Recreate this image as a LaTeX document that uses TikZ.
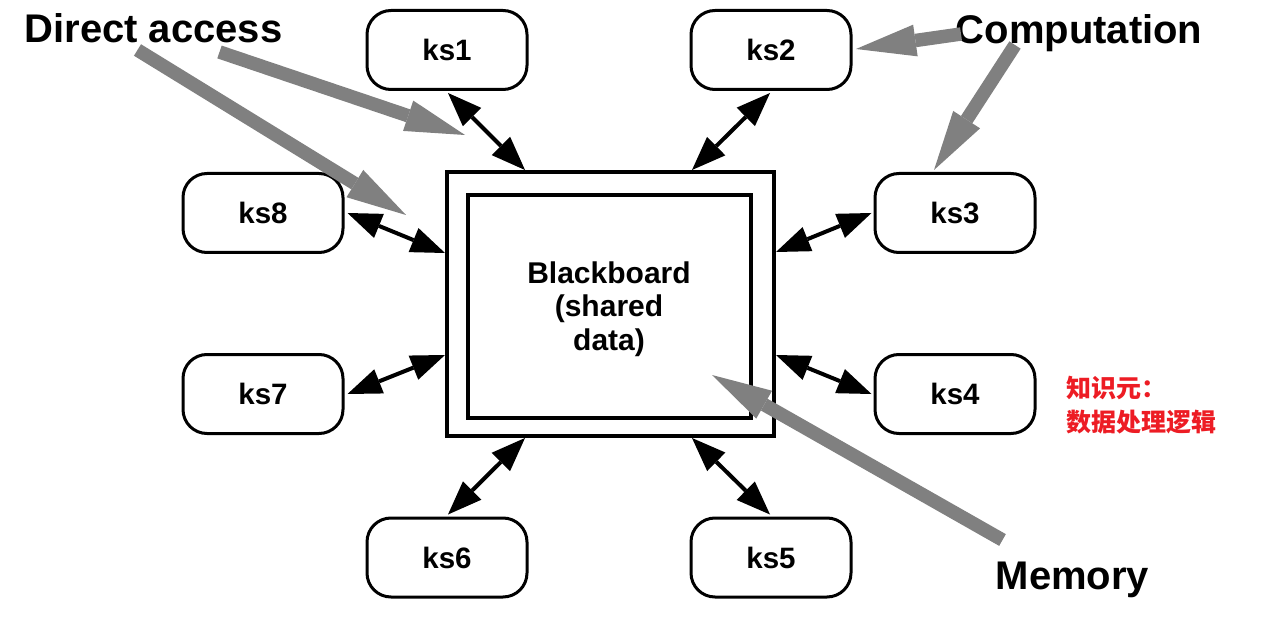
\documentclass[tikz,border=0pt]{standalone}
\usepackage{fontspec}
\setmainfont{Liberation Sans}
\newfontfamily\cjkfont{Noto Sans CJK SC}
\usetikzlibrary{arrows.meta,calc}
\definecolor{fatgray}{RGB}{128,128,128}
\definecolor{cjkred}{RGB}{237,28,36}
\begin{document}
\begin{tikzpicture}[x=1pt,y=-1pt,
  ks/.style={draw, line width=3pt, rounded corners=24pt, minimum width=160pt, minimum height=79pt,
    font=\fontsize{29.5}{34}\selectfont\bfseries, inner sep=0pt},
  dbl/.style={line width=4pt,
    {Triangle[length=34pt,width=26pt,line width=0pt]}-{Triangle[length=34pt,width=26pt,line width=0pt]}},
  fat/.style={draw=fatgray, line width=13.5pt,
    -{Triangle[length=60pt,width=32pt,line width=0pt]}},
  lbl/.style={font=\fontsize{40}{44}\selectfont\bfseries, inner sep=0pt, anchor=base},
  board/.style={draw, line width=4pt, inner sep=0pt}
]
\fill[white] (0,0) rectangle (1287,628);
\useasboundingbox (0,0) rectangle (1287,628);

% blackboard
\node[board, minimum width=327pt, minimum height=264pt] (bb) at (610.5,304) {};
\node[board, minimum width=283pt, minimum height=223pt] (bbi) at (609.5,306.5) {};
\node[font=\fontsize{30}{33.5}\selectfont\bfseries, align=center, inner sep=0pt] (bbt) at (609,309)
  {Blackboard\\(shared\\data)};

% knowledge sources
\node[ks] (ks1) at (447,50) {ks1};
\node[ks] (ks2) at (771,50) {ks2};
\node[ks] (ks3) at (955,213) {ks3};
\node[ks] (ks4) at (955,394) {ks4};
\node[ks] (ks5) at (771,557.5) {ks5};
\node[ks] (ks6) at (447,557.5) {ks6};
\node[ks] (ks7) at (263,394) {ks7};
\node[ks] (ks8) at (263,213) {ks8};

% attachment points on the blackboard
\coordinate (b1) at (525,170);
\coordinate (b2) at (692,170);
\coordinate (b3) at (776,252);
\coordinate (b4) at (776,355);
\coordinate (b5) at (692,438);
\coordinate (b6) at (525,438);
\coordinate (b7) at (445,355);
\coordinate (b8) at (445,253);

\draw[dbl] ([xshift=1pt,yshift=-2pt]ks1.south) -- (b1);
\draw[dbl] ([xshift=-1pt,yshift=-2pt]ks2.south) -- (b2);
\draw[dbl] ([xshift=-2pt]ks3.west) -- (b3);
\draw[dbl] ([xshift=-2pt]ks4.west) -- (b4);
\draw[dbl] ([xshift=-1pt,yshift=2pt]ks5.north) -- (b5);
\draw[dbl] ([xshift=1pt,yshift=2pt]ks6.north) -- (b6);
\draw[dbl] ([xshift=3pt]ks7.east) -- (b7);
\draw[dbl] ([xshift=3pt]ks8.east) -- (b8);

% labels
\node[lbl] (da) at (153.5,43) {Direct access};
\node[lbl] (comp) at (1079,44) {Computation};
\node[lbl] (mem) at (1072.5,589) {Memory};

% gray arrows
\coordinate (tA) at (406,215);
\coordinate (tB) at (465,135);
\coordinate (tC) at (856,49);
\coordinate (tD) at (934,170);
\coordinate (tM) at (712,375);
\draw[fat] ([xshift=-16pt,yshift=-7pt]da.base) -- (tA);
\draw[fat] ([xshift=66pt,yshift=-9pt]da.base) -- (tB);
\draw[fat] ([xshift=-118pt,yshift=10pt]comp.base) -- (tC);
\draw[fat] ([xshift=-64pt,yshift=-1pt]comp.base) -- (tD);
\draw[fat] ([xshift=-70pt,yshift=49pt]mem.base) -- (tM);

% note
\node[font=\cjkfont\fontsize{25}{34}\selectfont\bfseries, text=cjkred, align=left, inner sep=0pt, anchor=west]
  (note) at (1066,405) {知识元：\\数据处理逻辑};
\end{tikzpicture}
\end{document}
